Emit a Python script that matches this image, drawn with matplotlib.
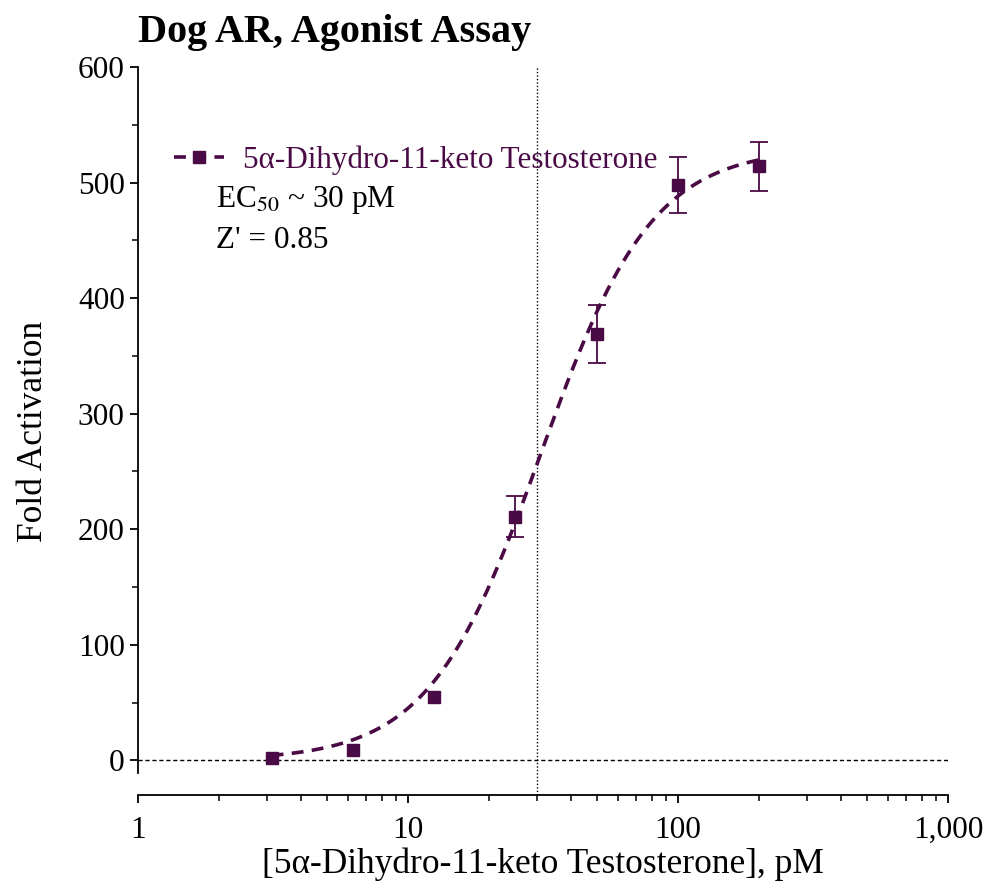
import numpy as np
import matplotlib
matplotlib.use("Agg")
import matplotlib.pyplot as plt
from matplotlib.ticker import FixedLocator, MultipleLocator, FuncFormatter

plt.rcParams['font.family'] = ['Liberation Serif', 'DejaVu Serif']
plt.rcParams['mathtext.fontset'] = 'stix'

# data
conc = [3.125, 6.25, 12.5, 25, 50, 100, 200]
fold = [2, 9, 55, 211, 369, 498, 514]
err = [0, 0, 0, 18, 25, 24, 21]

# 4PL fit parameters (estimated)
bottom, top, ec50, hill = 0.0, 530.0, 31.0, 2.1

purple = '#4a0a45'

fig = plt.figure(figsize=(9.87, 8.84), dpi=100)
ax = fig.add_axes([0.1398, 0.1007, 0.8207, 0.8235])

xs = np.logspace(np.log10(conc[0]), np.log10(conc[-1]), 300)
fit = bottom + (top - bottom) / (1 + (ec50 / xs) ** hill)

ax.axhline(0, color='black', lw=1, ls=(0, (3, 2)), zorder=1)
ax.axvline(30, color='black', lw=1, ls=(0, (1, 1.5)), zorder=1)

ax.plot(xs, fit, color=purple, lw=2.6, ls=(0, (3.3, 2.3)), zorder=2)
ax.errorbar(conc, fold, yerr=[e if e > 0 else np.nan for e in err], fmt='none',
            ecolor=purple, elinewidth=1.3, capsize=6.5, capthick=1.3, zorder=3)
ax.plot(conc, fold, 's', color=purple, ms=8.5, zorder=4)

# legend handle
h, = ax.plot([], [], color=purple, lw=2.6, ls=(0, (3.3, 2.3)), marker='s', ms=8.5)
leg = ax.legend([h], ['5\u03b1-Dihydro-11-keto Testosterone'], loc='center left',
                bbox_to_anchor=(0.045, 0.872), frameon=False, fontsize=22.4,
                handlelength=1.6, handletextpad=0.6, borderaxespad=0, borderpad=0)
for t in leg.get_texts():
    t.set_color(purple)
ax.text(0.096, 0.817, 'EC$_{50}$ ~ 30 pM', transform=ax.transAxes, fontsize=22.5, va='center')
ax.text(0.096, 0.762, "Z' = 0.85", transform=ax.transAxes, fontsize=22.5, va='center')

ax.set_xscale('log')
ax.set_xlim(1, 1000)
ax.set_ylim(-30, 600)
ax.xaxis.set_major_locator(FixedLocator([1, 10, 100, 1000]))
ax.xaxis.set_major_formatter(FuncFormatter(lambda v, p: f'{v:,.0f}'))
ax.xaxis.set_minor_locator(FixedLocator([m * 10 ** d for d in range(3) for m in range(2, 10)]))
ax.xaxis.set_minor_formatter(FuncFormatter(lambda v, p: ''))
ax.yaxis.set_major_locator(MultipleLocator(100))
ax.yaxis.set_minor_locator(FixedLocator([50, 150, 250, 350, 450, 550]))

for s in ['top', 'right']:
    ax.spines[s].set_visible(False)
ax.spines['left'].set_bounds(-11, 600)
ax.spines['left'].set_linewidth(1.3)
ax.spines['bottom'].set_linewidth(1.3)
ax.tick_params(which='major', length=6, width=1.3, labelsize=22.5, direction='out')
ax.tick_params(axis='x', which='major', pad=9)
ax.tick_params(which='minor', length=4, width=1.1, direction='out')

ax.set_xlabel('[5\u03b1-Dihydro-11-keto Testosterone], pM', fontsize=25.5, labelpad=2)
ax.set_ylabel('Fold Activation', fontsize=25.5, labelpad=20)
ax.set_title('Dog AR, Agonist Assay', fontsize=29, fontweight='bold', loc='left', pad=18)

fig.savefig('out.png', dpi=100)
